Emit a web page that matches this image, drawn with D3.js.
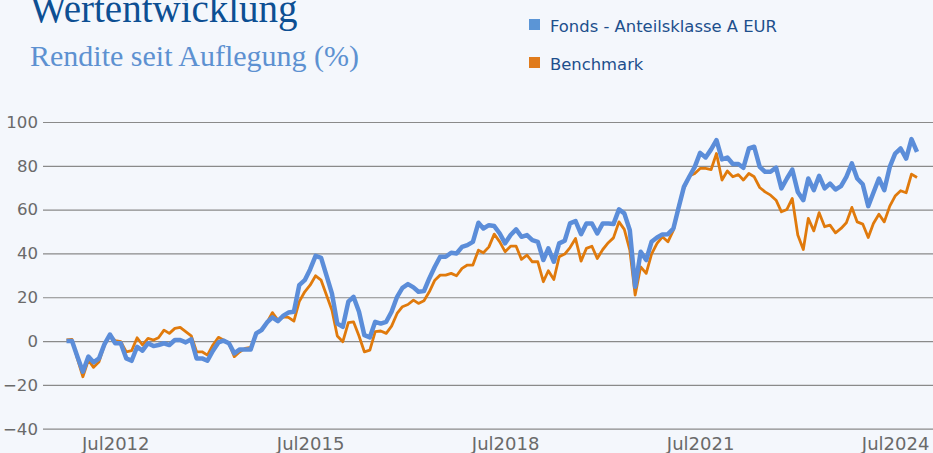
<!DOCTYPE html>
<html>

<head>
    <meta charset="utf-8">
    <title>Wertentwicklung</title>
    <script src="https://d3js.org/d3.v7.min.js"></script>
</head>
<style>
    body {
        margin: 0;
        background-color: #f4f7fc;
    }

    svg {
        display: block;
    }

    .axis text {
        font-family: "DejaVu Sans", sans-serif;
        fill: #6a6a6a;
    }
</style>

<body>
    <div id="chart"></div>
    <script>
        // monthly values, Oct 2011 .. Nov 2024
        var startMonth = new Date(2011, 9, 1);
        var endMonth = new Date(2024, 10, 1);

        var fonds = [
            0, 0, -7, -14, -7.1, -9.7, -7.9, -1.5, 3, -1,
            -1, -7.9, -9, -2.6, -4.4, -1, -2.3, -1.8, -1, -1.8,
            0.5, 0.5, -0.6, 0.8, -7.9, -7.9, -9, -4.4, -0.6, 0.2,
            -1, -5.6, -3.8, -3.8, -3.8, 3.5, 5, 8.5, 10.8, 9.1,
            11.6, 13, 13.4, 25.5, 27.8, 32.7, 38.9, 38, 30, 21.7,
            8, 6.5, 18, 20.2, 13.4, 2.7, 1.7, 8.8, 8, 8.8,
            13.4, 20.2, 24.3, 26, 24.5, 22.5, 22.8, 28.6, 33.9, 38.5,
            38.5, 40.3, 40, 43, 43.8, 45.3, 54, 51.4, 52.9, 52.5,
            49.1, 44.6, 48.4, 51, 47.6, 48.4, 46.1, 45.3, 37, 42.3,
            36.2, 44.6, 45.8, 53.7, 54.8, 48.8, 53.7, 53.7, 49.1, 53.7,
            53.7, 53.4, 60.1, 58.3, 50.6, 24.8, 40.8, 37, 45.3, 47.3,
            48.7, 48.8, 51.4, 60.5, 70.4, 75, 79.5, 85.9, 83.8, 87.5,
            91.7, 82.9, 83.8, 80.8, 80.8, 79.1, 87.9, 88.7, 79.5, 77.3,
            77.3, 79.2, 69.7, 74.2, 78.3, 68.1, 64.3, 74.2, 68.9, 75.4,
            69.7, 71.9, 69.2, 70.7, 75, 81.1, 74.2, 71.6, 61.6, 67.7,
            74.2, 68.9, 79.5, 85.6, 87.9, 83.3, 92.2, 86.4
        ];

        var benchmark = [
            0.5, 0.8, -8, -16.3, -8.7, -12, -9.4, -1.8, 2.7, 0.2,
            -0.3, -4.9, -4.4, 1.5, -1.8, 1.2, 0.5, 1.5, 5, 3.5,
            5.8, 6.2, 4.3, 2.4, -4.9, -4.9, -6.4, -1.8, 1.7, 0.5,
            -1, -7.1, -4.9, -3.3, -2.9, 3.5, 5, 8.5, 13, 9.6,
            11.1, 10.8, 9.1, 18, 22.5, 25.5, 29.8, 27.8, 21, 14.1,
            2.3, -0.3, 8.4, 8.8, 2.3, -4.9, -4.1, 4.3, 4.6, 3.5,
            6.8, 12.6, 15.7, 16.7, 18.7, 17.2, 18.4, 22.5, 27.8, 30.1,
            30.1, 30.9, 29.8, 33.2, 34.7, 34.7, 41.5, 40.3, 43, 48.8,
            45.3, 40.8, 43.3, 43.3, 37.3, 39.2, 36.2, 36.2, 27.1, 32.1,
            28.1, 38.5, 39.7, 42.7, 46.8, 36.5, 42.3, 43.3, 37.7, 41.8,
            44.9, 47.1, 54.4, 51, 41.5, 21, 33.9, 30.9, 39.7, 44.6,
            47.6, 45.3, 50.6, 61.3, 69.7, 75.3, 76.5, 78.8, 78.8, 78.3,
            85.6, 73.5, 77.6, 75, 76, 73.5, 76.5, 75, 70.1, 68.1,
            66.6, 64.3, 59, 60.1, 65.1, 48.4, 41.8, 56, 50.3, 58.6,
            52.2, 52.9, 49.4, 51.4, 54, 61, 54.4, 53.4, 47.3, 53.7,
            57.9, 54.4, 61.6, 66.2, 68.6, 67.7, 76.2, 74.7
        ];

        var yTicks = [-40, -20, 0, 20, 40, 60, 80, 100];
        var xTickYears = [2012, 2015, 2018, 2021, 2024];
        var seriesNames = ["Fonds - Anteilsklasse A EUR", "Benchmark"];
        var seriesColors = ["#5b8dd9", "#e07a0c"];

        var months = d3.timeMonth.range(startMonth, d3.timeMonth.offset(endMonth, 1));

        var width = 933;
        var height = 453;

        var svg = d3.select("#chart")
            .append("svg")
            .attr("width", width)
            .attr("height", height);

        // title
        svg.append("text")
            .attr("x", 30)
            .attr("y", 22)
            .style("font-family", "'Liberation Serif', serif")
            .style("font-size", "39px")
            .style("fill", "#0d4f93")
            .text("Wertentwicklung");

        svg.append("text")
            .attr("x", 30)
            .attr("y", 66)
            .style("font-family", "'Liberation Serif', serif")
            .style("font-size", "30px")
            .style("fill", "#5d91d1")
            .text("Rendite seit Auflegung (%)");

        // legend
        var legend = svg.selectAll(".legend")
            .data(seriesNames)
            .enter().append("g")
            .attr("class", "legend")
            .attr("transform", function(d, i) {
                return "translate(529," + (19 + i * 38) + ")";
            });

        legend.append("rect")
            .attr("width", 11)
            .attr("height", 11)
            .style("fill", function(d, i) {
                return i == 0 ? "#5b95d6" : "#e07b1c";
            });

        legend.append("text")
            .attr("x", 21)
            .attr("y", 13)
            .style("font-family", "'DejaVu Sans', sans-serif")
            .style("font-size", "16.4px")
            .style("fill", "#1d4f8c")
            .text(function(d) {
                return d;
            });

        // scales
        var x = d3.scaleTime()
            .domain([startMonth, endMonth])
            .range([66.5, 917]);

        var y = d3.scaleLinear()
            .domain([-40, 100])
            .range([428.7, 122]);

        // y gridlines + labels
        var yAxis = svg.append("g")
            .attr("class", "axis")
            .attr("transform", "translate(43,0)")
            .call(d3.axisLeft(y)
                .tickValues(yTicks)
                .tickSize(-(width - 43))
                .tickPadding(5));

        yAxis.select(".domain").remove();
        yAxis.selectAll("line")
            .attr("stroke", "#8a8a8a")
            .attr("stroke-width", 1.2);
        yAxis.selectAll("text")
            .style("font-size", "16.6px");

        // x labels
        var xAxis = svg.append("g")
            .attr("class", "axis")
            .attr("transform", "translate(0," + y(-40) + ")")
            .call(d3.axisBottom(x)
                .tickValues(xTickYears.map(function(yr) {
                    return new Date(yr, 6, 1);
                }))
                .tickFormat(function(d) {
                    return "Jul" + d.getFullYear();
                })
                .tickSize(0)
                .tickPadding(9));

        xAxis.select(".domain").remove();
        xAxis.selectAll("text")
            .style("font-size", "18px");

        // lines
        var line = d3.line()
            .x(function(d) {
                return x(d.date);
            })
            .y(function(d) {
                return y(d.value);
            });

        function toPoints(values) {
            return values.map(function(v, i) {
                return {
                    date: months[i],
                    value: v
                };
            });
        }

        svg.append("path")
            .datum(toPoints(benchmark))
            .attr("d", line)
            .attr("fill", "none")
            .attr("stroke", seriesColors[1])
            .attr("stroke-width", 2.8)
            .attr("stroke-linejoin", "round");

        svg.append("path")
            .datum(toPoints(fonds))
            .attr("d", line)
            .attr("fill", "none")
            .attr("stroke", seriesColors[0])
            .attr("stroke-width", 4.5)
            .attr("stroke-linejoin", "round");
    </script>
</body>

</html>
